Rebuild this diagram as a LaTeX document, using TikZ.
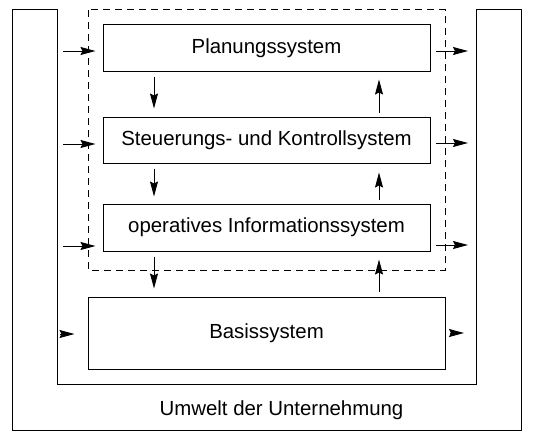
\documentclass[tikz,border=0pt]{standalone}
\usepackage{fontspec}
\setmainfont{Liberation Sans}
\usetikzlibrary{arrows.meta}
\begin{document}
\begin{tikzpicture}[x=1pt,y=-1pt,
  line width=1pt,
  sysbox/.style={draw, inner sep=0pt, minimum width=327pt, minimum height=46pt,
    font=\fontsize{20.4}{24}\selectfont},
  arr/.style={-{Stealth[length=15pt,width=8pt,inset=2pt]}},
  lbl/.style={font=\fontsize{20.4}{24}\selectfont, inner sep=0pt}]
\useasboundingbox (0,0) rectangle (534,436);
% environment / enterprise outline
\draw (12,10) -- (57,10) -- (57,384) -- (476,384) -- (476,10) -- (521,10) -- (521,430) -- (12,430) -- cycle;
\node[lbl] (umw) at (281.5,410) {Umwelt der Unternehmung};
% dashed frame
\draw[dashed, dash pattern=on 7pt off 5pt] (88,10) rectangle (445,270);
% boxes
\node[sysbox] (P) at (266.5,48) {Planungssystem};
\node[sysbox] (S) at (266.5,140) {Steuerungs- und Kontrollsystem\hspace{16pt}};
\node[sysbox, minimum height=47pt] (O) at (266.5,227.5) {operatives Informationssystem};
\node[sysbox, minimum width=357pt, minimum height=72pt] (B) at (266.5,333) {Basissystem\hspace{19pt}};
% helper coordinates
\coordinate (dn) at (154,0);
\coordinate (up) at (379,0);
% vertical arrows down
\draw[arr, shorten <=5pt, shorten >=8pt] (P.south -| dn) -- (S.north -| dn);
\draw[arr, shorten <=5pt, shorten >=7pt] (S.south -| dn) -- (O.north -| dn);
\draw[arr, shorten <=5pt, shorten >=8pt] (O.south -| dn) -- (B.north -| dn);
% vertical arrows up
\draw[arr, shorten <=4pt, shorten >=8pt] (S.north -| up) -- (P.south -| up);
\draw[arr, shorten <=4pt, shorten >=9pt] (O.north -| up) -- (S.south -| up);
\draw[arr, shorten <=5pt, shorten >=8pt] (B.north -| up) -- (O.south -| up);
% incoming arrows (left)
\coordinate (pl) at (63,51);
\coordinate (sl) at (63,144);
\coordinate (ol) at (63,246);
\coordinate (bl) at (60,334);
\draw[arr, shorten >=7pt] (pl) -- (pl -| P.west);
\draw[arr, shorten >=7pt] (sl) -- (sl -| S.west);
\draw[arr, shorten >=7pt] (ol) -- (ol -| O.west);
\draw[arr, shorten >=13pt] (bl) -- (bl -| B.west);
% outgoing arrows (right)
\coordinate (pr) at (468,51);
\coordinate (sr) at (468,143);
\coordinate (or) at (468,245);
\coordinate (br) at (464,333);
\draw[arr, shorten <=5pt] (pr -| P.east) -- (pr);
\draw[arr, shorten <=5pt] (sr -| S.east) -- (sr);
\draw[arr, shorten <=5pt] (or -| O.east) -- (or);
\draw[arr, shorten <=4pt] (br -| B.east) -- (br);
\end{tikzpicture}
\end{document}
